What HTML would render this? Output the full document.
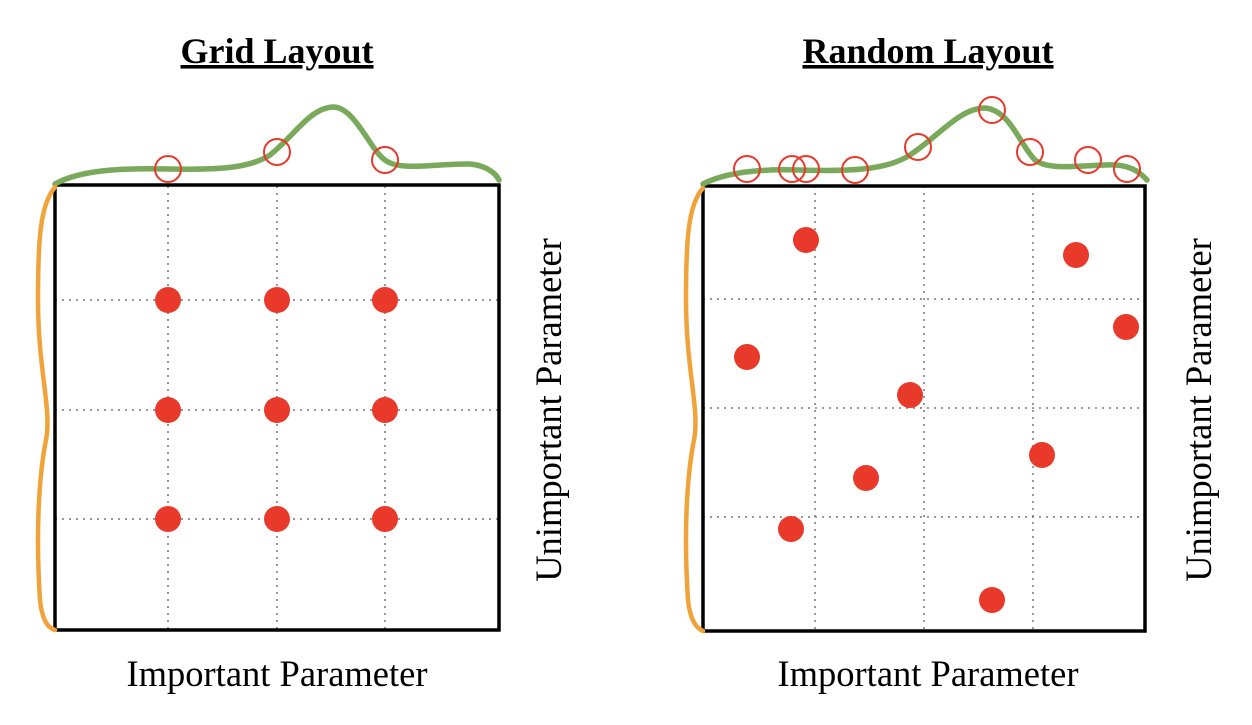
<!DOCTYPE html>
<html><head><style>body{margin:0;background:#fff}</style></head><body>
<svg width="1252" height="720" xmlns="http://www.w3.org/2000/svg" font-family="Liberation Serif, serif">
<rect width="1252" height="720" fill="#fff"/>
<g text-anchor="middle">
<text x="277" y="63" font-size="36" font-weight="bold" text-decoration="underline">Grid Layout</text>
<text x="928" y="63" font-size="36" font-weight="bold" text-decoration="underline">Random Layout</text>
<text x="277" y="686" font-size="36.5">Important Parameter</text>
<text x="928" y="686" font-size="36.5">Important Parameter</text>
<text transform="translate(561,410) rotate(-90)" font-size="36.5">Unimportant Parameter</text>
<text transform="translate(1211,410) rotate(-90)" font-size="36.5">Unimportant Parameter</text>
</g>
<g stroke="#777" stroke-width="1.5" stroke-dasharray="2,5">
<path d="M168 186V630M277 186V630M385 186V630M55 300H499M55 410H499M55 519H499"/>
<path d="M815 186V630M924 186V630M1033 186V630M703 299H1145M703 408H1145M703 517H1145"/>
</g>
<rect x="55" y="185" width="444" height="445" fill="none" stroke="#000" stroke-width="3.5"/>
<rect x="703" y="186" width="442" height="445" fill="none" stroke="#000" stroke-width="3.5"/>
<g fill="none" stroke="#7aa95c" stroke-width="5.5" stroke-linecap="round">
<path d="M55 184C80 170 120 168 168 169C220 170 250 168 270 155C295 135 310 108 333 107C355 107 370 150 385 160C400 172 440 163 470 164C490 166 497 176 499 180"/>
<path d="M703 184C730 170 770 169 800 170C860 172 890 168 910 155C940 135 960 108 985 108C1010 110 1020 145 1035 160C1050 172 1090 164 1115 165C1135 166 1143 176 1147 180"/>
</g>
<g fill="none" stroke="#f0a33a" stroke-width="4.5" stroke-linecap="round">
<path d="M55 187C40 205 38 240 38 300C38 370 52 410 46 440C38 480 36 540 40 600C42 620 48 628 55 630"/>
<path d="M703 188C688 205 686 240 686 300C686 370 700 410 694 440C686 480 684 540 688 600C690 620 696 628 703 631"/>
</g>
<g fill="none" stroke="#e8392a" stroke-width="2">
<circle cx="168" cy="169" r="13"/><circle cx="277" cy="152" r="13"/><circle cx="385" cy="160" r="13"/>
<circle cx="747" cy="169" r="13"/><circle cx="792" cy="169" r="13"/><circle cx="806" cy="169" r="13"/><circle cx="855" cy="170" r="13"/><circle cx="918" cy="147" r="13"/><circle cx="992" cy="110" r="13"/><circle cx="1030" cy="152" r="13"/><circle cx="1088" cy="160" r="13"/><circle cx="1127" cy="169" r="13"/>
</g>
<g fill="#e8392a">
<circle cx="168" cy="300" r="13"/><circle cx="277" cy="300" r="13"/><circle cx="385" cy="300" r="13"/>
<circle cx="168" cy="410" r="13"/><circle cx="277" cy="410" r="13"/><circle cx="385" cy="410" r="13"/>
<circle cx="168" cy="519" r="13"/><circle cx="277" cy="519" r="13"/><circle cx="385" cy="519" r="13"/>
<circle cx="806" cy="240" r="13"/><circle cx="1076" cy="255" r="13"/><circle cx="1126" cy="327" r="13"/><circle cx="747" cy="357" r="13"/><circle cx="910" cy="395" r="13"/><circle cx="1042" cy="455" r="13"/><circle cx="866" cy="478" r="13"/><circle cx="791" cy="529" r="13"/><circle cx="992" cy="600" r="13"/>
</g>
</svg>
</body></html>
